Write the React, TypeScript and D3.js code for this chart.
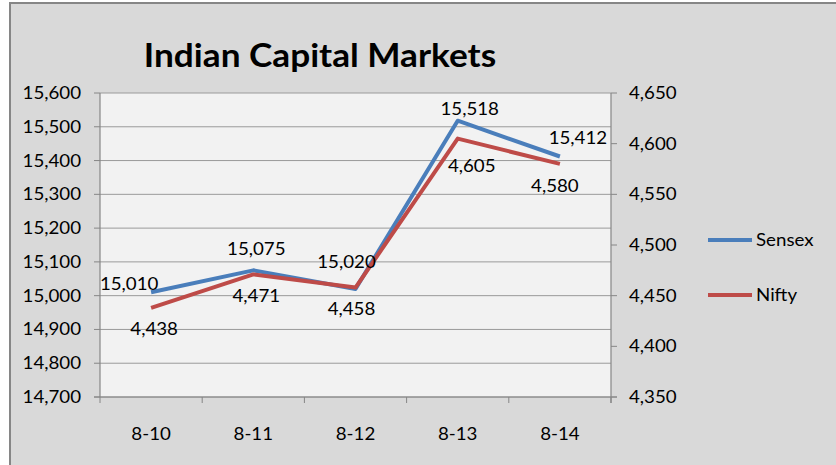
import { useEffect, useRef } from 'react';
import * as d3 from 'd3';

const categories = ['8-10', '8-11', '8-12', '8-13', '8-14'];
const sensex = [15010, 15075, 15020, 15518, 15412];
const nifty = [4438, 4471, 4458, 4605, 4580];
const leftTicks = [14700, 14800, 14900, 15000, 15100, 15200, 15300, 15400, 15500, 15600];
const rightTicks = [4350, 4400, 4450, 4500, 4550, 4600, 4650];

// label nudges (dx from point, baseline dy from point)
const sensexLabelOffset = [[-22, -2], [3, -15], [-9, -21], [12, -6], [18, -13]];
const niftyLabelOffset = [[3, 27], [3, 28], [-4, 27], [14, 33], [-5, 28]];

const W = 836, H = 465;
const FONT = 'Lato, "Open Sans", sans-serif';
const SX = 1.1;

export default function App() {
  const svgRef = useRef<SVGSVGElement>(null);

  useEffect(() => {
    if (!svgRef.current) return;
    const svg = d3.select(svgRef.current);
    svg.selectAll('*').remove();

    const m = { l: 100, t: 93, r: 611, b: 397 };
    const x = d3.scaleBand().domain(categories).range([m.l, m.r]);
    const xc = (c: string) => (x(c) as number) + x.bandwidth() / 2;
    const yL = d3.scaleLinear().domain([14700, 15600]).range([m.b, m.t]);
    const yR = d3.scaleLinear().domain([4350, 4650]).range([m.b, m.t]);
    const fmt = d3.format(',');

    const text = (px: number, py: number, s: string, anchor: string, size = 17, weight = 'normal', sx = SX) =>
      svg.append('text')
        .attr('transform', `translate(${px},${py}) scale(${sx},1)`)
        .attr('text-anchor', anchor)
        .attr('font-family', FONT)
        .attr('font-size', size)
        .attr('font-weight', weight)
        .attr('fill', '#000')
        .text(s);

    // chart area
    svg.append('rect').attr('x', 10).attr('y', 3).attr('width', 900).attr('height', 500)
      .attr('fill', '#d9d9d9').attr('stroke', '#868686').attr('stroke-width', 2);

    // plot area
    svg.append('rect').attr('x', m.l).attr('y', m.t).attr('width', m.r - m.l).attr('height', m.b - m.t)
      .attr('fill', '#f2f2f2');

    // gridlines
    svg.append('g').selectAll('line').data(leftTicks).enter().append('line')
      .attr('x1', m.l).attr('x2', m.r).attr('y1', d => yL(d)).attr('y2', d => yL(d))
      .attr('stroke', '#9a9a9a').attr('stroke-width', 1);

    // axes lines
    svg.append('line').attr('x1', m.l).attr('x2', m.l).attr('y1', m.t).attr('y2', m.b)
      .attr('stroke', '#868686').attr('stroke-width', 1.2);
    svg.append('line').attr('x1', m.r).attr('x2', m.r).attr('y1', m.t).attr('y2', m.b + 6)
      .attr('stroke', '#868686').attr('stroke-width', 1.2);
    svg.append('line').attr('x1', m.l - 6).attr('x2', m.r + 6).attr('y1', m.b).attr('y2', m.b)
      .attr('stroke', '#868686').attr('stroke-width', 1.2);

    // left ticks
    leftTicks.forEach(t => {
      svg.append('line').attr('x1', m.l - 6).attr('x2', m.l).attr('y1', yL(t)).attr('y2', yL(t))
        .attr('stroke', '#868686');
      text(81, yL(t) + 6, fmt(t), 'end');
    });
    // right ticks
    rightTicks.forEach(t => {
      svg.append('line').attr('x1', m.r).attr('x2', m.r + 6).attr('y1', yR(t)).attr('y2', yR(t))
        .attr('stroke', '#868686');
      text(629, yR(t) + 6, fmt(t), 'start');
    });
    // x ticks
    const edges = categories.map(c => x(c) as number).concat([m.r]);
    edges.forEach(e => {
      svg.append('line').attr('x1', e).attr('x2', e).attr('y1', m.b).attr('y2', m.b + 6)
        .attr('stroke', '#868686');
    });
    categories.forEach(c => text(xc(c), 440, c, 'middle'));

    // lines
    const line = (ys: d3.ScaleLinear<number, number>) => d3.line<number>()
      .x((_, i) => xc(categories[i])).y(d => ys(d));
    svg.append('path').datum(sensex).attr('d', line(yL))
      .attr('fill', 'none').attr('stroke', '#4a7ebb').attr('stroke-width', 4).attr('stroke-linejoin', 'round');
    svg.append('path').datum(nifty).attr('d', line(yR))
      .attr('fill', 'none').attr('stroke', '#be4b48').attr('stroke-width', 4).attr('stroke-linejoin', 'round');

    // data labels
    sensex.forEach((v, i) => {
      const [dx, dy] = sensexLabelOffset[i];
      text(xc(categories[i]) + dx, yL(v) + dy, fmt(v), 'middle');
    });
    nifty.forEach((v, i) => {
      const [dx, dy] = niftyLabelOffset[i];
      text(xc(categories[i]) + dx, yR(v) + dy, fmt(v), 'middle');
    });

    // title
    text(320, 67, 'Indian Capital Markets', 'middle', 32, 'bold', 1.1);

    // legend
    const legend = [{ name: 'Sensex', color: '#4a7ebb', y: 240 }, { name: 'Nifty', color: '#be4b48', y: 295 }];
    legend.forEach(l => {
      svg.append('line').attr('x1', 708).attr('x2', 752).attr('y1', l.y).attr('y2', l.y)
        .attr('stroke', l.color).attr('stroke-width', 4);
      text(756, l.y + 6, l.name, 'start');
    });
  }, []);

  return (
    <svg ref={svgRef} width={W} height={H} viewBox={`0 0 ${W} ${H}`}
      style={{ position: 'absolute', left: 0, top: 0, background: '#fff' }} />
  );
}
